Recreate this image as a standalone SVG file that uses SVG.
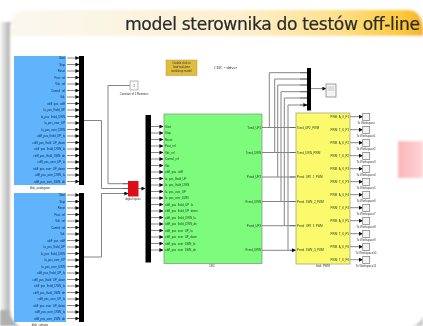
<svg xmlns="http://www.w3.org/2000/svg" width="423" height="326" viewBox="0 0 423 326">
<style>
text{font-family:"Liberation Sans",Arial,sans-serif;font-size:2.8px;fill:#12224d}
.r{text-anchor:end}.m{text-anchor:middle}
.g{fill:#143d14}.k{fill:#333}
.c{fill:none;stroke:#858585;stroke-width:1}
.a{fill:none;stroke:#555;stroke-width:.7;marker-end:url(#h)}
.bar{fill:#000}
.sc{fill:#f4f4f4;stroke:#777;stroke-width:.7}
</style>
<defs>
<marker id="h" markerUnits="userSpaceOnUse" markerWidth="4" markerHeight="4" refX="3.6" refY="2" orient="auto"><path d="M0 0L4 2L0 4z" fill="#111"/></marker>
<linearGradient id="hd" x1="0" x2="1" y1="0" y2="0"><stop offset="0" stop-color="#fbf8f0"/><stop offset=".55" stop-color="#fdf0d0"/><stop offset=".8" stop-color="#fde08a"/><stop offset=".95" stop-color="#fdc93a"/><stop offset="1" stop-color="#f5b32a"/></linearGradient>
<linearGradient id="sh" x1="0" x2="1" y1="0" y2="0"><stop offset="0" stop-color="#f8f8f8"/><stop offset="1" stop-color="#a8a8a8"/></linearGradient>
<linearGradient id="pk" x1="0" x2="1" y1="0" y2="0"><stop offset="0" stop-color="#fbb4b8"/><stop offset="1" stop-color="#ffd4d6"/></linearGradient>
<filter id="b1" x="-5%" y="-5%" width="110%" height="110%"><feGaussianBlur stdDeviation=".6"/></filter>
<filter id="b2" x="-10%" y="-10%" width="120%" height="120%"><feGaussianBlur stdDeviation="1.2"/></filter>
<filter id="b3" x="-5%" y="-20%" width="110%" height="140%"><feGaussianBlur stdDeviation=".4"/></filter>
</defs>
<rect width="423" height="326" fill="#fff"/>
<g id="slide" filter="url(#b2)">
<rect x="0" y="22" width="11" height="304" fill="url(#sh)"/>
<path d="M10 26Q12 12 26 10H408Q420 10 423 26V36H10z" fill="url(#hd)"/>
<rect x="10" y="36" width="413" height="290" fill="#fff"/>
<path d="M10 310Q11 322 20 326H0V310z" fill="#b0b0b0"/>
<path d="M423 316Q420 324 412 326H423z" fill="#c8c8c8"/>
<rect x="398" y="141" width="25" height="37" fill="url(#pk)"/>
</g>
<text id="title" x="125" y="30" style="font-family:'DejaVu Sans',Verdana,sans-serif;font-size:17.2px;fill:#2b2b2b;stroke:#2b2b2b;stroke-width:.2" textLength="295" filter="url(#b3)">model sterownika do testów off-line</text>
<g filter="url(#b1)">
<g id="connectors">
<path class="c" d="M130 85.5H108V183.7H128M84 120.5H101.5V188.5H128M84 257H101.5V193.5H128"/>
<path class="c" d="M240 127.5H296M240 152.5H296M240 177H296M240 201.5H296M240 225.7H296M240 250.3H296"/>
<path class="c" d="M269.3 127.5V72.7H307M274.7 152.5V79H307M277.7 177V85H307M281 201.5V91.7H307M284.3 225.7V98H307M288 250.3V105H307"/>
<path class="a" d="M300 72.7H307M300 79H307M300 85H307M300 91.7H307M300 98H307M300 105H307"/>
<path class="a" d="M311 88.6H326"/>
<path class="a" d="M138 188.5H145"/>
<path class="a" d="M123 183.7H128M123 188.5H128M123 193.5H128"/>
<path class="a" d="M290 127.5H295.5M290 152.5H295.5M290 177H295.5M290 201.5H295.5M290 225.7H295.5M290 250.3H295.5"/>
<g id="rows-left-1">
<path class="a" d="M67 58H79"/><path class="a" d="M67 64.5H79"/><path class="a" d="M67 71H79"/><path class="a" d="M67 77.5H79"/><path class="a" d="M67 84H79"/><path class="a" d="M67 90.5H79"/><path class="a" d="M67 97H79"/><path class="a" d="M67 103.5H79"/><path class="a" d="M67 110H79"/><path class="a" d="M67 116.5H79"/><path class="a" d="M67 123H79"/><path class="a" d="M67 129.5H79"/><path class="a" d="M67 136H79"/><path class="a" d="M67 142.5H79"/><path class="a" d="M67 149H79"/><path class="a" d="M67 155.5H79"/><path class="a" d="M67 162H79"/><path class="a" d="M67 168.5H79"/><path class="a" d="M67 175H79"/><path class="a" d="M67 181.5H79"/>
</g>
<g id="rows-left-2">
<path class="a" d="M67 195H79"/><path class="a" d="M67 201.5H79"/><path class="a" d="M67 208H79"/><path class="a" d="M67 214.5H79"/><path class="a" d="M67 221H79"/><path class="a" d="M67 227.5H79"/><path class="a" d="M67 234H79"/><path class="a" d="M67 240.5H79"/><path class="a" d="M67 247H79"/><path class="a" d="M67 253.5H79"/><path class="a" d="M67 260H79"/><path class="a" d="M67 266.5H79"/><path class="a" d="M67 273H79"/><path class="a" d="M67 279.5H79"/><path class="a" d="M67 286H79"/><path class="a" d="M67 292.5H79"/><path class="a" d="M67 299H79"/><path class="a" d="M67 305.5H79"/><path class="a" d="M67 312H79"/><path class="a" d="M67 318.5H79"/>
</g>
<g id="rows-mux">
<path class="a" d="M151 126.5H163"/><path class="a" d="M151 133H163"/><path class="a" d="M151 139.5H163"/><path class="a" d="M151 146H163"/><path class="a" d="M151 152.5H163"/><path class="a" d="M151 159H163"/><path class="a" d="M151 165.5H163"/><path class="a" d="M151 172H163"/><path class="a" d="M151 178.5H163"/><path class="a" d="M151 185H163"/><path class="a" d="M151 191.5H163"/><path class="a" d="M151 198H163"/><path class="a" d="M151 204.5H163"/><path class="a" d="M151 211H163"/><path class="a" d="M151 217.5H163"/><path class="a" d="M151 224H163"/><path class="a" d="M151 230.5H163"/><path class="a" d="M151 237H163"/><path class="a" d="M151 243.5H163"/><path class="a" d="M151 250H163"/>
</g>
<g id="rows-out">
<path class="a" d="M350 116.7H362.5"/><path class="a" d="M350 129.7H362.5"/><path class="a" d="M350 142.7H362.5"/><path class="a" d="M350 155.7H362.5"/><path class="a" d="M350 168.7H362.5"/><path class="a" d="M350 181.7H362.5"/><path class="a" d="M350 194.7H362.5"/><path class="a" d="M350 207.7H362.5"/><path class="a" d="M350 220.7H362.5"/><path class="a" d="M350 233.7H362.5"/><path class="a" d="M350 246.7H362.5"/><path class="a" d="M350 259.7H362.5"/>
</g>
</g>
<g id="blok-analog-1">
<rect x="14" y="56" width="52" height="129" fill="#5fb4fb"/>
<rect class="bar" x="79" y="56" width="5" height="129"/>
<text class="r" x="65" y="59">Start</text><text class="r" x="65" y="65.5">Stop</text><text class="r" x="65" y="72">Reset</text><text class="r" x="65" y="78.5">Pout_ref</text><text class="r" x="65" y="85">Vdc_ref</text><text class="r" x="65" y="91.5">Control_ref</text><text class="r" x="65" y="98">Vdc</text><text class="r" x="65" y="104.5">cdiff_pos_cdiff</text><text class="r" x="65" y="111">Ia_pos_Ihold_UP</text><text class="r" x="65" y="117.5">Ia_pos_Ihold_DWN</text><text class="r" x="65" y="124">Ia_pos_over_UP</text><text class="r" x="65" y="130.5">Ia_pos_over_DWN</text><text class="r" x="65" y="137">cdiff_pos_Ihold_UP_Ia</text><text class="r" x="65" y="143.5">cdiff_pos_Ihold_UP_down</text><text class="r" x="65" y="150">cdiff_pos_Ihold_DWN_Ia</text><text class="r" x="65" y="156.5">cdiff_pos_Ihold_DWN_dn</text><text class="r" x="65" y="163">cdiff_pos_over_UP_Ia</text><text class="r" x="65" y="169.5">cdiff_pos_over_UP_down</text><text class="r" x="65" y="176">cdiff_pos_over_DWN_Ia</text><text class="r" x="65" y="182.5">cdiff_pos_over_DWN_dn</text>
<text class="m k" x="40" y="188.5">blok_analogowe</text>
</g>
<g id="blok-analog-2">
<rect x="14" y="193" width="52" height="129" fill="#5fb4fb"/>
<rect class="bar" x="79" y="193" width="5" height="129"/>
<text class="r" x="65" y="196">Start</text><text class="r" x="65" y="202.5">Stop</text><text class="r" x="65" y="209">Reset</text><text class="r" x="65" y="215.5">Pout_ref</text><text class="r" x="65" y="222">Vdc_ref</text><text class="r" x="65" y="228.5">Control_ref</text><text class="r" x="65" y="235">Vdc</text><text class="r" x="65" y="241.5">cdiff_pos_cdiff</text><text class="r" x="65" y="248">Ia_pos_Ihold_UP</text><text class="r" x="65" y="254.5">Ia_pos_Ihold_DWN</text><text class="r" x="65" y="261">Ia_pos_over_UP</text><text class="r" x="65" y="267.5">Ia_pos_over_DWN</text><text class="r" x="65" y="274">cdiff_pos_Ihold_UP_Ia</text><text class="r" x="65" y="280.5">cdiff_pos_Ihold_UP_down</text><text class="r" x="65" y="287">cdiff_pos_Ihold_DWN_Ia</text><text class="r" x="65" y="293.5">cdiff_pos_Ihold_DWN_dn</text><text class="r" x="65" y="300">cdiff_pos_over_UP_Ia</text><text class="r" x="65" y="306.5">cdiff_pos_over_UP_down</text><text class="r" x="65" y="313">cdiff_pos_over_DWN_Ia</text><text class="r" x="65" y="319.5">cdiff_pos_over_DWN_dn</text>
<text class="m k" x="40" y="325.5">blok_cyfrowe</text>
</g>
<g id="note">
<rect x="166" y="60" width="31" height="15.5" fill="#e0bd3e" stroke="#b89a40" stroke-width=".5"/>
<text class="m k" x="181.5" y="63.5">Double click to</text><text class="m k" x="181.5" y="67.5">load real-time</text><text class="m k" x="181.5" y="71.5">workshop model</text>
</g>
<text id="cbc-title" x="214" y="69" style="font-family:'Liberation Serif',serif;font-size:4.4px;fill:#222">CBC - driver</text>
<g id="const">
<rect x="130" y="81" width="8" height="9" fill="#fafafa" stroke="#999" stroke-width=".7"/>
<text class="m k" x="134" y="87">1</text>
<text class="m k" x="134" y="94.5">Constant of 1 Remotes</text>
</g>
<g id="red-block">
<rect x="128" y="181" width="10.5" height="15.5" fill="#dc0f14"/>
<text class="m k" x="133" y="200">digital inputs</text>
</g>
<rect id="mux" class="bar" x="145.5" y="115" width="5.5" height="147.5"/>
<g id="cbc">
<rect x="164" y="114" width="98" height="149.5" fill="#7dfb7d" stroke="#7f9f7f" stroke-width=".8"/>
<text class="g" x="165" y="127.5">Start</text><text class="g" x="165" y="134">Stop</text><text class="g" x="165" y="140.5">Reset</text><text class="g" x="165" y="147">Pout_ref</text><text class="g" x="165" y="153.5">Vdc_ref</text><text class="g" x="165" y="160">Control_ref</text><text class="g" x="165" y="166.5">Vdc</text><text class="g" x="165" y="173">cdiff_pos_cdiff</text><text class="g" x="165" y="179.5">Ia_pos_Ihold_UP</text><text class="g" x="165" y="186">Ia_pos_Ihold_DWN</text><text class="g" x="165" y="192.5">Ia_pos_over_UP</text><text class="g" x="165" y="199">Ia_pos_over_DWN</text><text class="g" x="165" y="205.5">cdiff_pos_Ihold_UP_Ia</text><text class="g" x="165" y="212">cdiff_pos_Ihold_UP_down</text><text class="g" x="165" y="218.5">cdiff_pos_Ihold_DWN_Ia</text><text class="g" x="165" y="225">cdiff_pos_Ihold_DWN_dn</text><text class="g" x="165" y="231.5">cdiff_pos_over_UP_Ia</text><text class="g" x="165" y="238">cdiff_pos_over_UP_down</text><text class="g" x="165" y="244.5">cdiff_pos_over_DWN_Ia</text><text class="g" x="165" y="251">cdiff_pos_over_DWN_dn</text>
<text class="g r" x="261" y="128.5">Tcmd_UP1</text><text class="g r" x="261" y="153.5">Tcmd_DWN</text><text class="g r" x="261" y="178">Pcmd_UP2</text><text class="g r" x="261" y="202.5">Pcmd_DWN</text><text class="g r" x="261" y="226.7">Pcmd_UP3</text><text class="g r" x="261" y="251.3">Pcmd_DWN</text>
<text class="m k" x="212" y="267">CBC</text>
</g>
<g id="pwm">
<rect x="296" y="113" width="54" height="151" fill="#fbf96c" stroke="#a9a97a" stroke-width=".8"/>
<text class="g" x="297" y="128.5">Tcmd_UP2_PWM</text><text class="g" x="297" y="153.5">Tcmd_DWN_PWM</text><text class="g" x="297" y="178">Pcmd_UP2_2_PWM</text><text class="g" x="297" y="202.5">Pcmd_DWN_2_PWM</text><text class="g" x="297" y="226.7">Pcmd_UP3_3_PWM</text><text class="g" x="297" y="251.3">Pcmd_DWN_3_PWM</text>
<text class="g r" x="349" y="117.7">PWM_A_K_P1</text><text class="g r" x="349" y="130.7">PWM_T_K_P1</text><text class="g r" x="349" y="143.7">PWM_A_K_P2</text><text class="g r" x="349" y="156.7">PWM_T_K_P2</text><text class="g r" x="349" y="169.7">PWM_A_K_P3</text><text class="g r" x="349" y="182.7">PWM_T_K_P3</text><text class="g r" x="349" y="195.7">PWM_A_K_P4</text><text class="g r" x="349" y="208.7">PWM_T_K_P4</text><text class="g r" x="349" y="221.7">PWM_A_K_P5</text><text class="g r" x="349" y="234.7">PWM_T_K_P5</text><text class="g r" x="349" y="247.7">PWM_A_K_P6</text><text class="g r" x="349" y="260.7">PWM_T_K_P6</text>
<text class="m k" x="323" y="267">blok_PWM</text>
</g>
<rect id="mux-top" class="bar" x="307" y="68" width="4" height="42.5"/>
<g id="scope-top"><rect class="sc" x="326" y="84" width="10" height="13"/><rect x="327.5" y="86" width="7" height="5" fill="#ddd"/></g>
<g id="out-1"><rect class="sc" x="362.7" y="113.5" width="7" height="7"/><text class="m k" x="366" y="124">To Workspace</text></g>
<g id="out-2"><rect class="sc" x="362.7" y="126.5" width="7" height="7"/><text class="m k" x="366" y="137">To Workspace1</text></g>
<g id="out-3"><rect class="sc" x="362.7" y="139.5" width="7" height="7"/><text class="m k" x="366" y="150">To Workspace2</text></g>
<g id="out-4"><rect class="sc" x="362.7" y="152.5" width="7" height="7"/><text class="m k" x="366" y="163">To Workspace3</text></g>
<g id="out-5"><rect class="sc" x="362.7" y="165.5" width="7" height="7"/><text class="m k" x="366" y="176">To Workspace4</text></g>
<g id="out-6"><rect class="sc" x="362.7" y="178.5" width="7" height="7"/><text class="m k" x="366" y="189">To Workspace5</text></g>
<g id="out-7"><rect class="sc" x="362.7" y="191.5" width="7" height="7"/><text class="m k" x="366" y="202">To Workspace6</text></g>
<g id="out-8"><rect class="sc" x="362.7" y="204.5" width="7" height="7"/><text class="m k" x="366" y="215">To Workspace7</text></g>
<g id="out-9"><rect class="sc" x="362.7" y="217.5" width="7" height="7"/><text class="m k" x="366" y="228">To Workspace8</text></g>
<g id="out-10"><rect class="sc" x="362.7" y="230.5" width="7" height="7"/><text class="m k" x="366" y="241">To Workspace9</text></g>
<g id="out-11"><rect class="sc" x="362.7" y="243.5" width="7" height="7"/><text class="m k" x="366" y="254">To Workspace10</text></g>
<g id="out-12"><rect class="sc" x="362.7" y="256.5" width="7" height="7"/><text class="m k" x="366" y="267">To Workspace11</text></g>
</g>
</svg>
